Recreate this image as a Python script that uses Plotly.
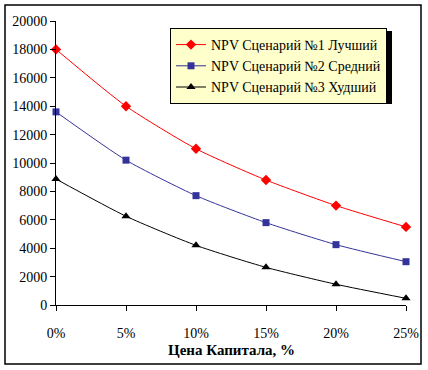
import plotly.graph_objects as go

rates = [0, 5, 10, 15, 20, 25]
tick_labels = ["0%", "5%", "10%", "15%", "20%", "25%"]
npv_best = [18000, 14000, 11000, 8800, 7000, 5500]
npv_mid = [13600, 10200, 7700, 5800, 4250, 3050]
npv_worst = [8870, 6250, 4200, 2650, 1460, 470]
names = ["NPV Сценарий №1 Лучший", "NPV Сценарий №2 Средний", "NPV Сценарий №3 Худший"]
x_title = "Цена Капитала, %"

W, H = 428, 370
L, R, T, B = 56, 22, 21, 65
pw, ph = W - L - R, H - T - B

def px(x):
    return (x - L) / pw

def py(y):
    return (H - B - y) / ph

fig = go.Figure()
series = [
    (npv_best, names[0], "#FF0000", "diamond", 8),
    (npv_mid, names[1], "#333399", "square", 7),
    (npv_worst, names[2], "#000000", "triangle-up", 8),
]
for vals, nm, col, sym, sz in series:
    fig.add_trace(go.Scatter(
        x=rates, y=vals, name=nm, mode="lines+markers",
        line=dict(color=col, width=1, shape="spline", smoothing=0.6),
        marker=dict(symbol=sym, size=sz, color=col),
        cliponaxis=False,
    ))

font = "Liberation Serif"
fig.update_layout(
    width=W, height=H,
    margin=dict(l=L, r=R, t=T, b=B, autoexpand=False),
    paper_bgcolor="white", plot_bgcolor="white",
    font=dict(family=font, size=13, color="black"),
    showlegend=True,
    legend=dict(
        x=px(170), y=py(28), xanchor="left", yanchor="top",
        bgcolor="#FFFFCC", bordercolor="black", borderwidth=1,
        font=dict(family=font, size=14, color="black"),
        tracegroupgap=0, itemwidth=30,
    ),
    xaxis=dict(
        range=[0, 25], tickvals=rates, ticktext=tick_labels,
        showgrid=False, zeroline=False, showline=True, linecolor="black", linewidth=1,
        ticks="outside", ticklen=5, tickcolor="black", ticklabelstandoff=10,
        tickfont=dict(family=font, size=14),
    ),
    yaxis=dict(
        range=[0, 20000], dtick=2000, tickformat="d",
        showgrid=False, zeroline=False, showline=True, linecolor="black", linewidth=1,
        ticks="outside", ticklen=5, tickcolor="black",
        tickfont=dict(family=font, size=14),
    ),
    annotations=[
        dict(text="<b>" + x_title + "</b>", xref="paper", yref="paper",
             x=0.5, y=py(350), xanchor="center", yanchor="middle",
             showarrow=False, font=dict(family=font, size=15, color="black")),
    ],
    shapes=[
        dict(type="rect", xref="paper", yref="paper",
             x0=px(5), x1=px(421), y0=py(364), y1=py(5),
             line=dict(color="black", width=1.5), fillcolor="rgba(0,0,0,0)", layer="below"),
        dict(type="rect", xref="paper", yref="paper",
             x0=px(173), x1=px(392), y0=py(104), y1=py(31),
             line=dict(width=0), fillcolor="black", layer="above"),
    ],
)
fig.write_html("out.html", config={"displayModeBar": False},
               post_script="document.body.style.margin='0';document.body.style.overflow='hidden';")
